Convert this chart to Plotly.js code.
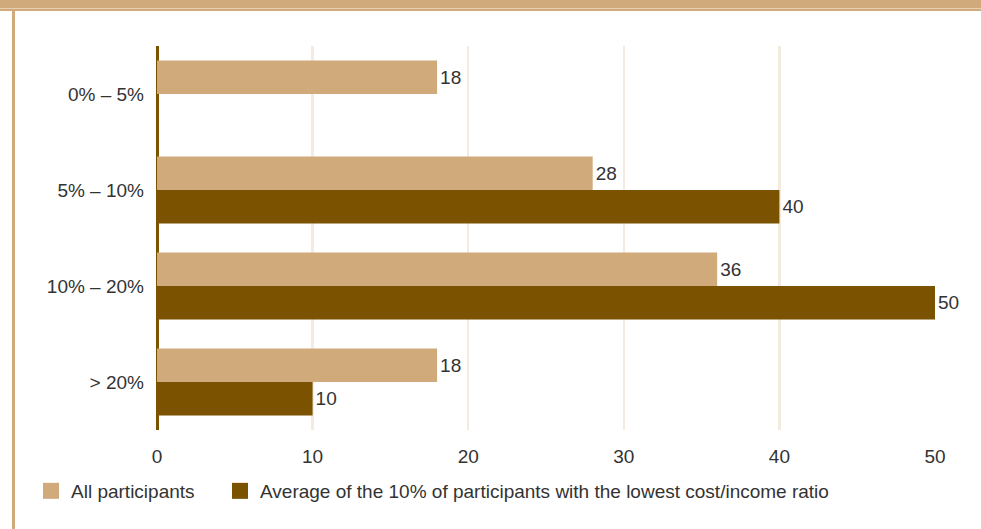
<!DOCTYPE html>
<html><head><meta charset="utf-8">
<script src="https://cdn.plot.ly/plotly-3.0.1.min.js"></script>
<style>
html,body{margin:0;padding:0;background:#fff;}
#wrap{position:relative;width:981px;height:529px;overflow:hidden;}
#band{position:absolute;left:0;top:0;width:981px;height:11px;background:#d0aa7a;}
#bandline{position:absolute;left:0;top:8px;width:981px;height:1px;background:#e6cfb0;}
#leftline{position:absolute;left:12px;top:10px;width:3px;height:519px;background:#d0aa7a;}
#chart{position:absolute;left:0;top:0;width:981px;height:529px;}
</style></head>
<body><div id="wrap"><div id="band"></div><div id="bandline"></div><div id="leftline"></div><div id="chart"></div></div>
<script>
var categories = ["0% – 5%", "5% – 10%", "10% – 20%", "> 20%"];
var seriesNames = ["All participants", "Average of the 10% of participants with the lowest cost/income ratio"];
var allParticipants = [18, 28, 36, 18];
var lowestTen = [null, 40, 50, 10];
var xTicks = [0, 10, 20, 30, 40, 50];
var colors = ["#d0aa7a", "#7a5200"];

var font = {family: "Liberation Sans, Arial, sans-serif", size: 19, color: "#333333"};

function barTrace(vals, i) {
  return {
    type: "bar", orientation: "h", y: categories, x: vals, name: seriesNames[i],
    marker: {color: colors[i]}, text: vals.map(function(v){return v==null?"":String(v);}),
    textposition: "outside", cliponaxis: false, textfont: font,
    showlegend: false, legendgroup: "g"+i, hoverinfo: "x+name"
  };
}
function legendTrace(i) {
  return {
    type: "scatter", mode: "markers", x: [null], y: [categories[0]], name: seriesNames[i],
    marker: {color: colors[i], symbol: "square", size: 16}, legendgroup: "g"+i, hoverinfo: "skip",
    legend: i === 0 ? "legend" : "legend2"
  };
}
var data = [barTrace(allParticipants,0), barTrace(lowestTen,1), legendTrace(0), legendTrace(1)];

function legendAt(xpx) {
  return {orientation: "h", xref: "container", yref: "container", x: xpx/981, y: 38/529,
          xanchor: "left", yanchor: "middle", font: font, itemsizing: "trace", bgcolor: "rgba(0,0,0,0)"};
}

var layout = {
  width: 981, height: 529,
  margin: {l: 157, r: 46, t: 46, b: 99},
  paper_bgcolor: "rgba(0,0,0,0)", plot_bgcolor: "rgba(0,0,0,0)",
  font: font,
  barmode: "group", bargap: 0.3, bargroupgap: 0,
  xaxis: {range: [0, 50], tickvals: xTicks, ticktext: xTicks.map(String), showgrid: true,
          gridcolor: "#f4ebe0", gridwidth: 2.5, zeroline: true, zerolinecolor: "#7a5200", zerolinewidth: 3,
          showline: false, ticks: "", ticklabelstandoff: 13, tickfont: font, fixedrange: true},
  yaxis: {type: "category", categoryorder: "array", categoryarray: categories, autorange: "reversed",
          showgrid: false, zeroline: false, showline: false,
          ticks: "", ticklabelstandoff: 12, tickfont: font, fixedrange: true},
  showlegend: true,
  legend: legendAt(31),
  legend2: legendAt(220)
};
Plotly.newPlot("chart", data, layout, {displayModeBar: false, staticPlot: true});
</script></body></html>
